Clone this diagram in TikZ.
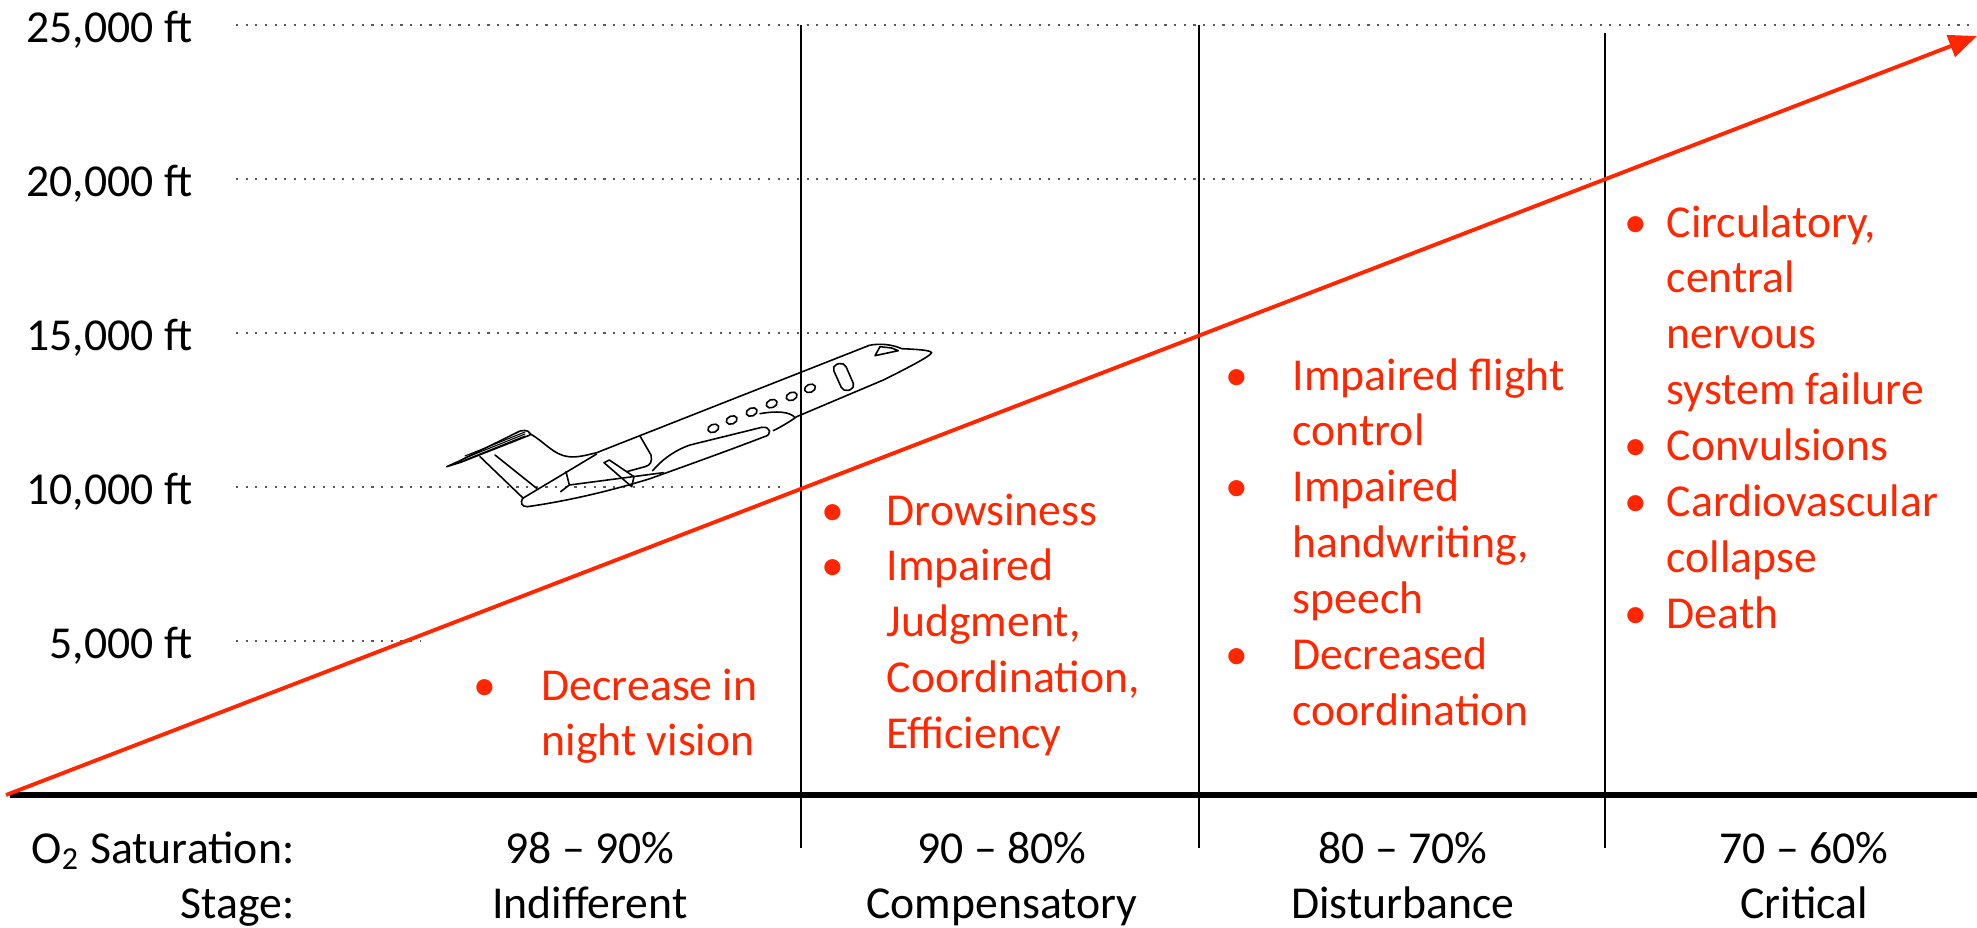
\documentclass[tikz,border=0pt]{standalone}
\usepackage{fontspec}
\setmainfont{Carlito}
\usetikzlibrary{positioning,arrows.meta}
\definecolor{hypred}{RGB}{255,38,0}
\tikzset{axisline/.style={draw, line width=1.7pt}}
\tikzset{stagesep/.style={draw, line width=0.8pt}}
\tikzset{gridline/.style={draw, black!65, line width=0.6pt, dash pattern=on 0.6pt off 2.15pt}}
\tikzset{altline/.style={draw, hypred, line width=1.1pt, -{Triangle[length=8pt,width=6.5pt]}}}
\tikzset{altlbl/.style={anchor=base east, inner sep=0pt}}
\tikzset{stagelbl/.style={anchor=base, inner sep=0pt}}
\tikzset{symptoms/.style={anchor=base west, inner sep=0pt, text=hypred}}
\tikzset{planeline/.style={draw, line width=0.45pt, line join=round, line cap=round}}

\begin{document}
\begin{tikzpicture}[x=0.01cm, y=-0.01cm,
    every node/.style={font=\fontsize{13pt}{15.9pt}\selectfont}]
    \useasboundingbox (0,0) rectangle (1977,927);
    %
    % altitude scale
    \foreach \alt/\yy/\xe in {5/641/420, 10/487/783, 15/333/1187, 20/179/1590, 25/25/1977}{
        \node[altlbl] (alt\alt) at (193,\yy+17) {\alt,000 ft};
        \draw[gridline] (236,\yy) -- (\xe,\yy);
    }
    %
    % stage separators and ground
    \foreach \xs/\yt in {801/25, 1199/25, 1605/33}
        \draw[stagesep] (\xs,\yt) -- (\xs,848);
    \coordinate (groundL) at (10,795);
    \coordinate (groundR) at (1977,795);
    \draw[axisline] (groundL) -- (groundR);
    %
    % climb
    \coordinate (sea) at (6,795);
    \coordinate (ceiling) at (1977,36);
    \draw[altline] (sea) -- (ceiling);
    %
    % bottom rows
    \node[altlbl] (satlbl) at (295,863) {O\textsubscript{2} Saturation:};
    \node[altlbl] (stagelbl) at (295,918) {Stage:};
    \foreach \xc/\sat/\stg [count=\i] in {590/98 -- 90\%/Indifferent,
            1002/90 -- 80\%/Compensatory, 1403/80 -- 70\%/Disturbance,
            1804/70 -- 60\%/Critical}{
        \node[stagelbl] (sat\i) at (\xc,863) {\sat};
        \node[stagelbl] (stg\i) at (\xc,918) {\stg};
    }
    %
    % symptoms
    \node[symptoms] (indiff) at (473,700) {\begin{tabular}[t]{@{}p{0.68cm}@{}l@{}}
        \textbullet & Decrease in\\ & night vision\end{tabular}};
    \node[symptoms] (compens) at (821,525) {\begin{tabular}[t]{@{}p{0.65cm}@{}l@{}}
        \textbullet & Drowsiness\\ \textbullet & Impaired\\ & Judgment,\\
        & Coordination,\\ & Efficiency\end{tabular}};
    \node[symptoms] (disturb) at (1225,390) {\begin{tabular}[t]{@{}p{0.67cm}@{}l@{}}
        \textbullet & Impaired flight\\ & control\\ \textbullet & Impaired\\
        & handwriting,\\ & speech\\ \textbullet & Decreased\\ & coordination\end{tabular}};
    \node[symptoms] (critic) at (1624,237) {\begin{tabular}[t]{@{}p{0.42cm}@{}l@{}}
        \textbullet & Circulatory,\\ & central\\ & nervous\\ & system failure\\
        \textbullet & Convulsions\\ \textbullet & Cardiovascular\\ & collapse\\
        \textbullet & Death\end{tabular}};
    %
    % jet
    \begin{scope}[shift={(430,320)}, scale=1/3]
        % fin leading edge, fuselage top, nose
        \draw[planeline] (298,340) .. controls (340,362) and (370,405) .. (415,410)
            .. controls (445,413) and (470,405) .. (500,398) -- (1318,76)
            .. controls (1345,70) and (1385,72) .. (1415,86)
            .. controls (1460,88) and (1500,90) .. (1505,98)
            .. controls (1500,110) and (1420,150) .. (1360,180) -- (1100,290)
            .. controls (1080,305) and (1050,322) .. (1030,332);
        \draw[planeline] (1335,107) -- (1350,80) -- (1385,84) -- (1405,92) -- cycle;
        \draw[planeline, rounded corners=1.5pt] (1205,138) -- (1242,126) -- (1276,204) -- (1240,216) -- cycle;
        \foreach \wx/\wy in {850/325, 905/300, 965/276, 1025/251, 1085/229, 1140/205}
            \draw[planeline, rotate around={22:(\wx,\wy)}] (\wx,\wy) ellipse [x radius=17, y radius=12];
        \draw[planeline] (990,281) .. controls (1040,272) and (1080,275) .. (1094,292);
        % wing
        \draw[planeline] (995,322) .. controls (1022,318) and (1028,345) .. (1003,350)
            .. controls (900,390) and (760,440) .. (660,476)
            .. controls (550,510) and (420,542) .. (292,560);
        \draw[planeline] (995,322) -- (780,375) .. controls (730,392) and (690,425) .. (668,452);
        % rear body
        \draw[planeline] (292,560) .. controls (275,560) and (270,548) .. (278,535) -- (500,402);
        \draw[planeline] (408,455) -- (418,495) -- (392,515);
        \draw[planeline] (418,495) -- (700,458);
        % engine
        \draw[planeline] (630,348) -- (663,405) .. controls (668,425) and (660,437) .. (645,440) -- (590,455);
        \draw[planeline] (522,428) -- (538,420) -- (612,470) -- (605,500) -- cycle;
        % tail
        \draw[planeline] (50,440) -- (90,422) -- (270,333) .. controls (290,328) and (302,335) .. (300,345)
            -- (92,427) -- (50,440);
        \foreach \hh in {0,6,12}
            \draw[planeline, line width=0.3pt] (105,420-\hh) -- (285,348-\hh);
        \draw[planeline] (150,410) -- (280,535);
        \draw[planeline] (195,405) -- (320,505);
    \end{scope}
\end{tikzpicture}
\end{document}
